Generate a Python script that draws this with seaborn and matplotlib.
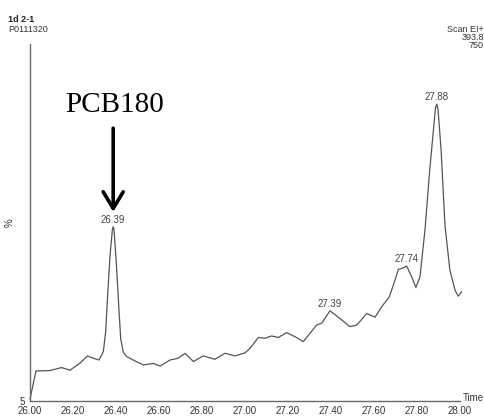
import matplotlib
matplotlib.use("Agg")
import matplotlib.pyplot as plt
import seaborn as sns
import pandas as pd
from matplotlib.ticker import MultipleLocator, FuncFormatter

# ---- data ----
time = [26.000, 26.014, 26.028, 26.093, 26.147, 26.186, 26.233, 26.267, 26.294, 26.321,
        26.341, 26.352, 26.360, 26.372, 26.383, 26.387, 26.391, 26.402, 26.414, 26.422,
        26.434, 26.450, 26.480, 26.527,
        26.573, 26.605, 26.651, 26.690, 26.721, 26.760, 26.806, 26.860, 26.907, 26.953,
        27.000, 27.023, 27.062, 27.093, 27.124, 27.155, 27.194, 27.233, 27.271, 27.302,
        27.333, 27.357, 27.395, 27.434, 27.488, 27.520, 27.566, 27.605, 27.636, 27.671,
        27.698, 27.713, 27.735, 27.752, 27.775, 27.795, 27.814, 27.837, 27.860, 27.886,
        27.892, 27.898, 27.912, 27.930, 27.953, 27.977, 27.992, 28.008]
intensity = [5.5, 9.3, 13.0, 13.1, 13.9, 13.2, 15.1, 17.0, 16.4, 15.9,
             18.1, 23.5, 32.0, 43.5, 50.5, 51.4, 50.5, 41.2, 29.0, 21.5,
             18.0, 16.8, 15.9, 14.6,
             15.0, 14.3, 15.9, 16.4, 17.7, 15.5, 17.0, 16.1, 17.7, 17.0,
             17.8, 19.0, 21.9, 21.7, 22.3, 21.9, 23.2, 22.1, 20.8, 23.0,
             25.2, 25.7, 29.0, 27.3, 24.8, 25.2, 28.3, 27.3, 30.1, 32.7,
             37.2, 40.0, 40.4, 40.9, 38.1, 35.2, 38.1, 50.5, 67.0, 83.0,
             84.0, 82.5, 71.8, 51.8, 39.8, 34.5, 32.9, 34.1]

peak_labels = ["26.39", "27.39", "27.74", "27.88"]
peak_times = [26.387, 27.395, 27.752, 27.892]
peak_heights = [51.4, 29.0, 40.9, 84.0]

compound = "PCB180"
compound_time = 26.387
arrow_top, arrow_tip = 77.6, 55.3
compound_text_y = 81.9

x_tick_labels_every = 0.2
y_ticks = [5, 10, 20, 30, 40, 50, 60, 70, 80, 90, 100]
y_tick_labels = ["5", "", "", "", "", "", "", "", "", "", ""]

df = pd.DataFrame({"Time": time, "Intensity": intensity})

# ---- style ----
sns.set_theme(style="white")
plt.rcParams["font.family"] = ["Liberation Sans", "DejaVu Sans"]

W, H = 485, 417
fig = plt.figure(figsize=(W / 100, H / 100), dpi=100)
ax = fig.add_axes([30 / W, 1 - 401 / H, 430 / W, 357 / H])

line_col = "#555555"
axis_col = "#6a6a6a"
text_col = "#333333"

sns.lineplot(data=df, x="Time", y="Intensity", ax=ax, color=line_col,
             linewidth=0.9, sort=False, estimator=None)
for l in ax.lines:
    l.set_clip_on(False)
    l.set_solid_joinstyle("round")

ax.set_xlim(26.0, 28.0)
ax.set_ylim(5, 100)

for s in ["top", "right"]:
    ax.spines[s].set_visible(False)
for s in ["left", "bottom"]:
    ax.spines[s].set_color(axis_col)
    ax.spines[s].set_linewidth(1.0)

ax.xaxis.set_major_locator(MultipleLocator(0.1))
ax.xaxis.set_minor_locator(MultipleLocator(0.02))


def fmt(v, pos):
    k = round(v / x_tick_labels_every, 6)
    return f"{v:.2f}" if abs(k - round(k)) < 1e-6 else ""


ax.xaxis.set_major_formatter(FuncFormatter(fmt))
ax.tick_params(axis="x", which="major", direction="out", length=3, width=0.8,
               color=axis_col, labelsize=7, labelcolor=text_col, pad=0.3)
ax.tick_params(axis="x", which="minor", direction="out", length=2, width=0.7,
               color=axis_col)
ax.set_yticks(y_ticks)
ax.set_yticklabels(y_tick_labels)
ax.tick_params(axis="y", which="major", direction="out", length=3, width=0.8,
               color=axis_col, labelsize=7, labelcolor=text_col, pad=1)
ax.set_xlabel("")
ax.set_ylabel("%", fontsize=7, color=text_col, labelpad=3)

# peak labels
for lab, t, h in zip(peak_labels, peak_times, peak_heights):
    ax.annotate(lab, xy=(t, h), xytext=(0, 1.5), textcoords="offset points",
                ha="center", va="bottom", fontsize=7, color="#444444")

# compound annotation
ax.annotate("", xy=(compound_time, arrow_tip), xytext=(compound_time, arrow_top),
            arrowprops=dict(arrowstyle="->, head_length=0.6, head_width=0.36",
                            mutation_scale=20, lw=2.6, color="black",
                            shrinkA=0, shrinkB=0))
ax.text(compound_time + 0.007, compound_text_y, compound, ha="center", va="baseline",
        fontsize=21, color="black", family=["Liberation Serif", "DejaVu Serif"])

# header texts
fig.text(8 / W, 1 - 19 / H, "1d 2-1", fontsize=6.5, fontweight="bold",
         color="#222222", va="center", ha="left")
fig.text(8 / W, 1 - 30 / H, "P0111320", fontsize=6.5, color="#333333",
         va="center", ha="left")
fig.text(484 / W, 1 - 29 / H, "Scan EI+", fontsize=6.5, color="#333333",
         va="center", ha="right")
fig.text(484 / W, 1 - 38 / H, "393.8", fontsize=6.5, color="#333333",
         va="center", ha="right")
fig.text(484 / W, 1 - 46 / H, "750", fontsize=6.5, color="#333333",
         va="center", ha="right")
fig.text(484 / W, 1 - 398 / H, "Time", fontsize=7, color=text_col,
         va="center", ha="right")

fig.savefig("out.png", dpi=100)
